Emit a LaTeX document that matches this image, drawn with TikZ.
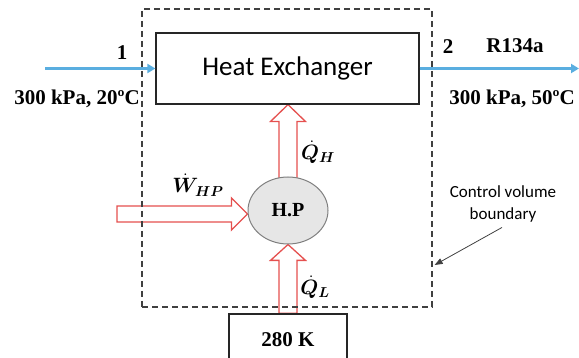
\documentclass[tikz,border=0pt]{standalone}
\usepackage{bm}
\usepackage{fontspec}
\setmainfont{Liberation Serif}
\newfontfamily\carlito{Carlito}
\usetikzlibrary{arrows.meta,calc,backgrounds,shapes.geometric}
\definecolor{flowblue}{HTML}{5AAEE0}
\definecolor{heatred}{HTML}{E5504F}
\definecolor{hpfill}{HTML}{E6E6E6}
\definecolor{hpline}{HTML}{7F7F7F}
\definecolor{cvgray}{HTML}{404040}
\begin{document}
\begin{tikzpicture}[x=1pt,y=-1pt,
  flow/.style={flowblue, line width=2.6pt, -{Triangle[length=8pt,width=9pt]}},
  box/.style={draw=black!85, line width=1.2pt, inner sep=0pt},
  lab/.style={font=\fontsize{21}{24}\selectfont\bfseries, inner sep=0pt},
  mathlab/.style={font=\fontsize{20}{24}\selectfont, inner sep=0pt},
  blockarrow/.style={draw=heatred, line width=1.3pt, fill=white, line join=miter},
  cvline/.style={draw=cvgray, dash pattern=on 6pt off 4pt, line width=1.3pt},
]
\useasboundingbox (0,0) rectangle (579,358);
% control volume
\node[cvline, minimum width=290pt, minimum height=298pt, inner sep=0pt] (cv) at (287,158) {};
% main nodes
\node[box, minimum width=263pt, minimum height=71pt, font=\carlito\fontsize{27}{30}\selectfont] (hx) at (287.5,68.5) {Heat Exchanger};
\node[ellipse, draw=hpline, fill=hpfill, line width=1pt, minimum width=80pt, minimum height=67pt, inner sep=0pt, font=\fontsize{20}{22}\selectfont\bfseries] (hp) at (288,210.5) {H.P};
\node[box, lab, minimum width=118pt, minimum height=52pt] (cold) at (288,340) {280 K};
% labels
\node[lab] (n1) at (122,53) {1};
\node[lab] (s1) at (77,99) {300 kPa, 20ºC};
\node[lab] (n2) at (448,47) {2};
\node[lab] (fluid) at (515,46) {R134a};
\node[lab] (s2) at (512,99) {300 kPa, 50ºC};
\node[mathlab] (qh) at (318,152) {$\bm{\dot{Q}_H}$};
\node[mathlab] (w) at (198,185) {$\bm{\dot{W}_{HP}}$};
\node[mathlab] (ql) at (315,287) {$\bm{\dot{Q}_L}$};
\node[font=\carlito\fontsize{17}{22}\selectfont, align=center, inner sep=0pt] (cvlab) at (503,204) {Control volume\\boundary};
% flow lines
\coordinate (in1) at (45,68.5);
\coordinate (out2) at (579,68.5);
\draw[flow] (in1) -- (hx.west);
\draw[flow] (hx.east) -- (out2);
% control volume pointer
\coordinate (cvpt) at ($(cv.east)+(2,107)$);
\draw[cvgray, line width=0.8pt, -{Triangle[length=8pt,width=6pt]}] ($(cvlab.south)+(-1,5)$) -- (cvpt);
% block arrows
\coordinate (wstart) at (117,214);
\begin{scope}[on background layer]
\draw[blockarrow] ($(hp.north)+(-9,3)$) -- ($(hp.north)+(-9,-55)$) -- ($(hp.north)+(-17.5,-55)$)
  -- (hp.north |- hx.south) -- ($(hp.north)+(17.5,-55)$) -- ($(hp.north)+(9,-55)$) -- ($(hp.north)+(9,3)$) -- cycle;
\draw[blockarrow] ($(cold.north)+(-9,0)$) -- ($(cold.north)+(-9,-53)$) -- ($(cold.north)+(-17.5,-53)$)
  -- (hp.south) -- ($(cold.north)+(17.5,-53)$) -- ($(cold.north)+(9,-53)$) -- ($(cold.north)+(9,0)$) -- cycle;
\draw[blockarrow] ($(wstart)+(0,-8)$) -- ($(hp.west)+(-16,-4.5)$) -- ($(hp.west)+(-16,-12.5)$)
  -- ($(hp.west)+(0,3.5)$) -- ($(hp.west)+(-16,19.5)$) -- ($(hp.west)+(-16,11.5)$) -- ($(wstart)+(0,8)$) -- cycle;
\end{scope}
\end{tikzpicture}
\end{document}
